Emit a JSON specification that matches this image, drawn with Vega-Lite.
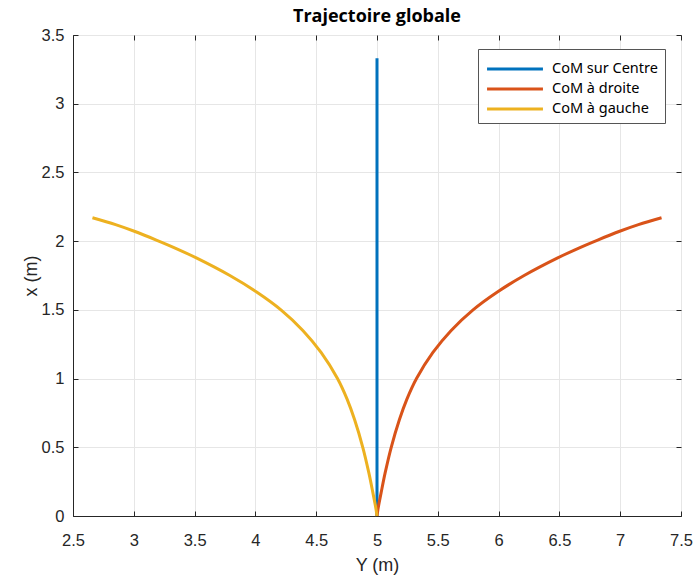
{
  "$schema": "https://vega.github.io/schema/vega-lite/v6.json",
  "autosize": "none",
  "width": 608,
  "height": 481,
  "padding": {"left": 73, "top": 35, "right": 14, "bottom": 59},
  "background": "white",
  "title": {"text": "Trajectoire globale", "font": "Open Sans", "fontSize": 18, "fontWeight": "bold", "color": "#000000", "offset": 1},
  "config": {
    "view": {"stroke": "#262626", "strokeWidth": 1},
    "axis": {"labelFont": "Liberation Sans", "labelFontSize": 16.5, "labelColor": "#262626", "titleFont": "Liberation Sans", "titleFontSize": 18, "titleFontWeight": "normal", "titleColor": "#262626", "gridColor": "#e6e6e6", "gridWidth": 1, "domainColor": "#262626", "tickColor": "#262626", "tickSize": -5, "labelFlush": false}
  },
  "data": {"values": [
    {"s": "CoM sur Centre", "o": 0, "Y": 5.0, "x": 0.0},
    {"s": "CoM sur Centre", "o": 1, "Y": 5.0, "x": 3.33},
    {"s": "CoM à droite", "o": 0, "Y": 5.0, "x": 0.0},
    {"s": "CoM à droite", "o": 1, "Y": 5.008, "x": 0.05},
    {"s": "CoM à droite", "o": 2, "Y": 5.034, "x": 0.17},
    {"s": "CoM à droite", "o": 3, "Y": 5.066, "x": 0.31},
    {"s": "CoM à droite", "o": 4, "Y": 5.117, "x": 0.5},
    {"s": "CoM à droite", "o": 5, "Y": 5.184, "x": 0.7},
    {"s": "CoM à droite", "o": 6, "Y": 5.246, "x": 0.85},
    {"s": "CoM à droite", "o": 7, "Y": 5.325, "x": 1.0},
    {"s": "CoM à droite", "o": 8, "Y": 5.46, "x": 1.19},
    {"s": "CoM à droite", "o": 9, "Y": 5.61, "x": 1.35},
    {"s": "CoM à droite", "o": 10, "Y": 5.79, "x": 1.5},
    {"s": "CoM à droite", "o": 11, "Y": 5.99, "x": 1.63},
    {"s": "CoM à droite", "o": 12, "Y": 6.21, "x": 1.75},
    {"s": "CoM à droite", "o": 13, "Y": 6.49, "x": 1.88},
    {"s": "CoM à droite", "o": 14, "Y": 6.66, "x": 1.95},
    {"s": "CoM à droite", "o": 15, "Y": 6.82, "x": 2.01},
    {"s": "CoM à droite", "o": 16, "Y": 6.99, "x": 2.07},
    {"s": "CoM à droite", "o": 17, "Y": 7.15, "x": 2.12},
    {"s": "CoM à droite", "o": 18, "Y": 7.34, "x": 2.17},
    {"s": "CoM à gauche", "o": 0, "Y": 5.0, "x": 0.0},
    {"s": "CoM à gauche", "o": 1, "Y": 4.992, "x": 0.05},
    {"s": "CoM à gauche", "o": 2, "Y": 4.966, "x": 0.17},
    {"s": "CoM à gauche", "o": 3, "Y": 4.934, "x": 0.31},
    {"s": "CoM à gauche", "o": 4, "Y": 4.883, "x": 0.5},
    {"s": "CoM à gauche", "o": 5, "Y": 4.816, "x": 0.7},
    {"s": "CoM à gauche", "o": 6, "Y": 4.754, "x": 0.85},
    {"s": "CoM à gauche", "o": 7, "Y": 4.675, "x": 1.0},
    {"s": "CoM à gauche", "o": 8, "Y": 4.54, "x": 1.19},
    {"s": "CoM à gauche", "o": 9, "Y": 4.39, "x": 1.35},
    {"s": "CoM à gauche", "o": 10, "Y": 4.21, "x": 1.5},
    {"s": "CoM à gauche", "o": 11, "Y": 4.01, "x": 1.63},
    {"s": "CoM à gauche", "o": 12, "Y": 3.79, "x": 1.75},
    {"s": "CoM à gauche", "o": 13, "Y": 3.51, "x": 1.88},
    {"s": "CoM à gauche", "o": 14, "Y": 3.34, "x": 1.95},
    {"s": "CoM à gauche", "o": 15, "Y": 3.18, "x": 2.01},
    {"s": "CoM à gauche", "o": 16, "Y": 3.01, "x": 2.07},
    {"s": "CoM à gauche", "o": 17, "Y": 2.85, "x": 2.12},
    {"s": "CoM à gauche", "o": 18, "Y": 2.66, "x": 2.17}
  ]},
  "resolve": {"axis": {"x": "independent", "y": "independent"}},
  "layer": [
    {
      "mark": {"type": "line", "strokeWidth": 3, "interpolate": "catmull-rom"},
      "encoding": {
        "x": {"field": "Y", "type": "quantitative", "scale": {"domain": [2.5, 7.5], "nice": false, "zero": false},
              "axis": {"title": "Y (m)", "values": [2.5,3,3.5,4,4.5,5,5.5,6,6.5,7,7.5], "format": "~g", "labelPadding": 21, "titlePadding": 8}},
        "y": {"field": "x", "type": "quantitative", "scale": {"domain": [0, 3.5], "nice": false, "zero": false},
              "axis": {"title": "x (m)", "values": [0,0.5,1,1.5,2,2.5,3,3.5], "format": "~g", "labelPadding": 14, "titlePadding": 1}},
        "color": {"field": "s", "type": "nominal",
                  "scale": {"domain": ["CoM sur Centre", "CoM à droite", "CoM à gauche"], "range": ["#0072BD", "#D95319", "#EDB120"]},
                  "legend": {"title": null, "orient": "none", "legendX": 405, "legendY": 14, "symbolType": "M-2.5,0H2.5", "symbolSize": 500, "symbolStrokeWidth": 3, "symbolOffset": 17, "labelFont": "Noto Sans", "labelFontSize": 14.5, "labelColor": "#000000", "fillColor": "white", "strokeColor": "#555555", "padding": 7, "rowPadding": -1, "labelOffset": 24}},
        "order": {"field": "o", "type": "quantitative"}
      }
    },
    {
      "mark": {"type": "line", "opacity": 0},
      "encoding": {
        "x": {"field": "Y", "type": "quantitative", "axis": {"orient": "top", "title": null, "labels": false, "grid": false, "domain": false, "values": [2.5,3,3.5,4,4.5,5,5.5,6,6.5,7,7.5]}},
        "y": {"field": "x", "type": "quantitative", "axis": {"orient": "right", "title": null, "labels": false, "grid": false, "domain": false, "values": [0,0.5,1,1.5,2,2.5,3,3.5]}},
        "detail": {"field": "s"}
      }
    }
  ]
}
